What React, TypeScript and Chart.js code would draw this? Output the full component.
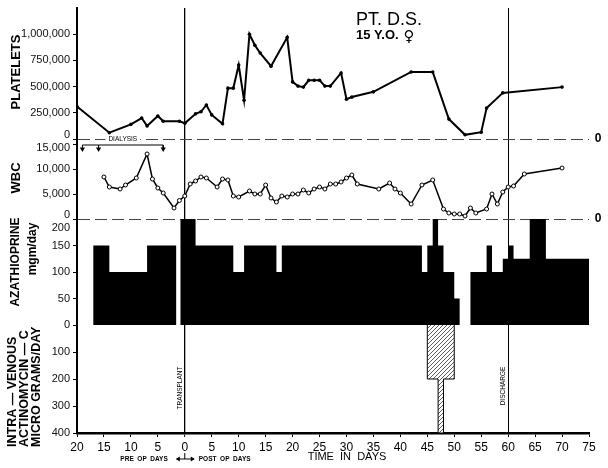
import React, { useEffect, useRef } from 'react';
import { Chart, registerables } from 'chart.js';

Chart.register(...registerables);

const FONT = '"Liberation Sans", Arial, Helvetica, sans-serif';

// ---- time axis (days; negative = pre-op) ----
const xTickValues = [-20, -15, -10, -5, 0, 5, 10, 15, 20, 25, 30, 35, 40, 45, 50, 55, 60, 65, 70, 75];
const transplantDay = 0;
const dischargeDay = 60;

// ---- platelets ----
const plateletTicks = [0, 250000, 500000, 750000, 1000000];
const plateletDays = [-20, -14, -10, -8, -7, -5, -4, -1, 0, 2, 3, 4, 5, 7, 8, 9, 10, 11, 12, 13, 14, 16, 19, 20, 21, 22, 23, 24, 25, 26, 27, 29, 30, 31, 35, 42, 46, 49, 52, 55, 56, 59, 70];
const plateletCounts = [310000, 60000, 140000, 200000, 125000, 220000, 170000, 170000, 150000, 240000, 260000, 325000, 230000, 145000, 485000, 485000, 705000, 370000, 1000000, 895000, 820000, 695000, 970000, 545000, 505000, 495000, 560000, 560000, 560000, 505000, 505000, 630000, 380000, 400000, 450000, 640000, 640000, 190000, 40000, 65000, 295000, 440000, 495000];

// ---- WBC ----
const wbcTicks = [0, 5000, 10000, 15000];
const wbcDays = [-15, -14, -12, -11, -9, -7, -6, -5, -4, -2, -1, 0, 1, 2, 3, 4, 6, 7, 8, 9, 10, 12, 13, 14, 15, 16, 17, 18, 19, 20, 21, 22, 23, 24, 25, 26, 27, 28, 29, 30, 31, 32, 36, 38, 39, 40, 42, 44, 46, 48, 49, 50, 51, 52, 53, 54, 56, 57, 58, 59, 60, 61, 63, 70];
const wbcCounts = [8400, 6400, 6000, 6800, 8200, 13000, 8000, 6200, 5200, 2200, 3700, 4600, 7000, 7600, 8400, 8200, 6400, 8000, 7800, 4600, 4400, 5600, 5000, 5000, 6800, 4200, 3400, 4600, 4400, 5000, 5000, 5800, 5200, 6000, 6400, 6000, 7000, 7000, 7400, 8200, 8800, 7000, 6000, 7200, 6000, 5200, 3000, 6800, 7800, 2000, 1200, 1000, 1000, 600, 2200, 1200, 2000, 5000, 3000, 5400, 6400, 6600, 9000, 10200];

// ---- dialysis (pre-op) ----
const dialysisDays = [-19, -16, -4];
const dialysisBarLevel = 14800; // in WBC units
const dialysisArrowLevel = 14000;

// ---- azathioprine mgm/day (dose starting on each day) ----
const azaTicks = [0, 50, 100, 150, 200];
const azaDays = [-17, -14, -7, -1.6, -0.8, 2, 9, 11, 17, 18, 44, 45, 46, 47, 48, 50, 51, 53, 56, 57, 59, 60, 61, 64, 67, 75];
const azaDoses = [150, 100, 150, 0, 200, 150, 100, 150, 100, 150, 100, 150, 200, 150, 100, 50, 0, 100, 150, 100, 125, 150, 125, 200, 125, 125];

// ---- IV actinomycin-C micrograms/day ----
const actTicks = [0, 100, 200, 300, 400];
const actDays = [45, 45, 47, 48, 50, 50];
const actDoses = [0, 200, 400, 200, 200, 0];

const labelShift: Record<string, Record<string, number>> = {
  yPlt: { '0': -4 },
  yWbc: { '15,000': 4, '0': -4 },
  yAza: { '200': 9 },
};

function hatchPattern(): CanvasPattern | string {
  const c = document.createElement('canvas');
  c.width = 4;
  c.height = 4;
  const g = c.getContext('2d');
  if (!g) return '#999';
  g.fillStyle = '#fff';
  g.fillRect(0, 0, 4, 4);
  g.strokeStyle = '#333';
  g.lineWidth = 0.8;
  g.beginPath();
  g.moveTo(0, 4); g.lineTo(4, 0);
  g.moveTo(-1, 1); g.lineTo(1, -1);
  g.moveTo(3, 5); g.lineTo(5, 3);
  g.stroke();
  return g.createPattern(c, 'repeat') || '#999';
}

function rtext(ctx: CanvasRenderingContext2D, s: string, x: number, y: number, font: string, align: CanvasTextAlign = 'center') {
  ctx.save();
  ctx.translate(x, y);
  ctx.rotate(-Math.PI / 2);
  ctx.font = font;
  ctx.textAlign = align;
  ctx.textBaseline = 'middle';
  ctx.fillText(s, 0, 0);
  ctx.restore();
}

const annotPlugin = {
  id: 'annot',
  beforeDraw(chart: any) {
    for (const id of Object.keys(labelShift)) {
      const sc: any = chart.scales[id];
      if (!sc || !sc.getLabelItems) continue;
      const items = sc.getLabelItems(chart.chartArea);
      for (const it of items) {
        if (it._shifted) continue;
        it._shifted = true;
        const d = labelShift[id][it.label];
        if (d) it.options.translation = [it.options.translation[0], it.options.translation[1] + d];
      }
    }
  },
  afterDraw(chart: any) {
    const ctx: CanvasRenderingContext2D = chart.ctx;
    const { x, yPlt, yWbc } = chart.scales;
    const ca = chart.chartArea;
    ctx.save();
    ctx.fillStyle = '#000';
    ctx.strokeStyle = '#000';

    // dialysis label on the platelet zero line
    const dx = x.getPixelForValue((dialysisDays[0] + dialysisDays[dialysisDays.length - 1]) / 2);
    const dy = yPlt.getPixelForValue(0);
    ctx.font = `6.5px ${FONT}`;
    const w = ctx.measureText('DIALYSIS').width;
    ctx.fillStyle = '#fff';
    ctx.fillRect(dx - w / 2 - 3, dy - 4, w + 6, 8);
    ctx.fillStyle = '#000';
    ctx.textAlign = 'center';
    ctx.textBaseline = 'middle';
    ctx.fillText('DIALYSIS', dx, dy);

    // right-end zero marks
    ctx.font = `bold 12px ${FONT}`;
    ctx.fillText('0', ca.right + 9, yPlt.getPixelForValue(0));
    ctx.fillText('0', ca.right + 9, yWbc.getPixelForValue(0));

    // title
    ctx.textAlign = 'left';
    ctx.textBaseline = 'alphabetic';
    ctx.font = `18px ${FONT}`;
    ctx.fillText('PT. D.S.', 356, 25);
    ctx.font = `bold 13px ${FONT}`;
    ctx.fillText('15 Y.O.', 356, 39);
    ctx.font = `15px "DejaVu Sans", sans-serif`;
    ctx.textAlign = 'center';
    ctx.textBaseline = 'middle';
    ctx.fillText('\u2640', 409, 37);

    // left axis titles
    rtext(ctx, 'PLATELETS', 16, 72, `bold 13px ${FONT}`);
    rtext(ctx, 'WBC', 16, 178, `bold 13px ${FONT}`);
    rtext(ctx, 'AZATHIOPRINE', 16, 262, `bold 12px ${FONT}`);
    rtext(ctx, 'mgm/day', 33, 249, `bold 12px ${FONT}`);
    rtext(ctx, 'INTRA \u2014 VENOUS', 13, 447, `bold 12.5px ${FONT}`, 'left');
    rtext(ctx, 'ACTINOMYCIN \u2014 C', 25, 447, `bold 12.5px ${FONT}`, 'left');
    rtext(ctx, 'MICRO GRAMS/DAY', 37, 447, `bold 12.5px ${FONT}`, 'left');

    // event labels
    const x0 = x.getPixelForValue(transplantDay);
    const x60 = x.getPixelForValue(dischargeDay);
    rtext(ctx, 'TRANSPLANT', x0 - 5, 388, `6.5px ${FONT}`);
    rtext(ctx, 'DISCHARGE', x60 - 5, 386, `6.5px ${FONT}`);

    // bottom captions
    ctx.textBaseline = 'middle';
    ctx.font = `bold 6.5px ${FONT}`;
    ctx.textAlign = 'right';
    ctx.fillText('PRE  OP  DAYS', x0 - 17, 459);
    ctx.textAlign = 'left';
    ctx.fillText('POST  OP  DAYS', x0 + 14, 459);
    ctx.lineWidth = 1;
    ctx.beginPath();
    ctx.moveTo(x0, 453); ctx.lineTo(x0, 459);
    ctx.moveTo(x0 - 8, 459); ctx.lineTo(x0 + 9, 459);
    ctx.stroke();
    ctx.beginPath();
    ctx.moveTo(x0 - 9, 459); ctx.lineTo(x0 - 5, 456.5); ctx.lineTo(x0 - 5, 461.5); ctx.closePath();
    ctx.moveTo(x0 + 10, 459); ctx.lineTo(x0 + 6, 456.5); ctx.lineTo(x0 + 6, 461.5); ctx.closePath();
    ctx.fill();
    ctx.font = `11px ${FONT}`;
    ctx.textAlign = 'center';
    ctx.fillText('TIME  IN  DAYS', 347, 457);
    ctx.restore();
  },
};

export default function App() {
  const ref = useRef<HTMLCanvasElement>(null);
  useEffect(() => {
    const canvas = ref.current;
    if (!canvas) return;

    const bracket: { x: number; y: number }[] = [];
    dialysisDays.forEach((d, i) => {
      if (i === 0) bracket.push({ x: d, y: dialysisArrowLevel }, { x: d, y: dialysisBarLevel });
      else if (i === dialysisDays.length - 1) bracket.push({ x: d, y: dialysisBarLevel }, { x: d, y: dialysisArrowLevel });
      else bracket.push({ x: d, y: dialysisBarLevel }, { x: d, y: dialysisArrowLevel }, { x: d, y: dialysisBarLevel });
    });

    const tickFont = { family: FONT, size: 11 };
    const yFit = (s: any) => { s.width = 77; s.paddingTop = 0; s.paddingBottom = 0; };
    const zeroGrid = (c: any) => (c.tick && c.tick.value === 0 ? '#444' : 'rgba(0,0,0,0)');

    const config: any = {
      type: 'line',
      data: {
        datasets: [
          {
            label: 'Platelets',
            yAxisID: 'yPlt',
            data: plateletDays.map((d, i) => ({ x: d, y: plateletCounts[i] })),
            borderColor: '#000',
            borderWidth: 2,
            pointRadius: 1.8,
            pointBackgroundColor: '#000',
            pointBorderWidth: 0,
            tension: 0,
            fill: false,
          },
          {
            label: 'WBC',
            yAxisID: 'yWbc',
            data: wbcDays.map((d, i) => ({ x: d, y: wbcCounts[i] })),
            borderColor: '#000',
            borderWidth: 1.5,
            pointRadius: 2,
            pointBackgroundColor: '#fff',
            pointBorderColor: '#000',
            pointBorderWidth: 1,
            tension: 0,
            fill: false,
          },
          {
            label: 'Dialysis',
            yAxisID: 'yWbc',
            data: bracket,
            borderColor: '#000',
            borderWidth: 1,
            pointRadius: 0,
            fill: false,
          },
          {
            label: 'Dialysis arrows',
            yAxisID: 'yWbc',
            data: dialysisDays.map((d) => ({ x: d, y: dialysisArrowLevel })),
            showLine: false,
            pointStyle: 'triangle',
            rotation: 180,
            pointRadius: 3,
            pointBackgroundColor: '#000',
            pointBorderColor: '#000',
            pointBorderWidth: 0,
          },
          {
            label: 'Azathioprine',
            yAxisID: 'yAza',
            data: azaDays.map((d, i) => ({ x: d, y: azaDoses[i] })),
            stepped: 'before',
            fill: 'origin',
            backgroundColor: '#000',
            borderColor: 'rgba(0,0,0,0)',
            borderWidth: 1,
            pointRadius: 0,
          },
          {
            label: 'Actinomycin-C',
            yAxisID: 'yAct',
            data: actDays.map((d, i) => ({ x: d, y: actDoses[i] })),
            stepped: 'before',
            fill: 'origin',
            backgroundColor: hatchPattern(),
            borderColor: '#000',
            borderWidth: 1,
            pointRadius: 0,
          },
        ],
      },
      options: {
        responsive: false,
        animation: false,
        events: [],
        layout: { padding: { top: 8, right: 19, bottom: 0, left: 0 } },
        plugins: { legend: { display: false }, tooltip: { enabled: false }, title: { display: false } },
        scales: {
          x: {
            type: 'linear',
            position: 'bottom',
            min: -20,
            max: 75,
            afterBuildTicks: (ax: any) => { ax.ticks = xTickValues.map((v) => ({ value: v })); },
            ticks: {
              callback: (v: any) => String(Math.abs(Number(v))),
              font: { family: FONT, size: 12 },
              color: '#000',
              padding: 3,
              maxRotation: 0,
              autoSkip: false,
            },
            grid: {
              color: (c: any) => (c.tick && (c.tick.value === transplantDay || c.tick.value === dischargeDay) ? '#000' : 'rgba(0,0,0,0)'),
              lineWidth: (c: any) => (c.tick && c.tick.value === transplantDay ? 1.3 : 1),
              tickColor: '#000',
              tickWidth: 1,
              tickLength: 4,
            },
            border: { display: true, color: '#000', width: 2.5 },
            afterFit: (s: any) => { s.height = 35; s.paddingLeft = 0; s.paddingRight = 0; },
          },
          yPlt: {
            type: 'linear',
            position: 'left',
            stack: 'v',
            stackWeight: 131,
            weight: 4,
            min: 0,
            max: 1250000,
            afterBuildTicks: (ax: any) => { ax.ticks = plateletTicks.map((v) => ({ value: v })); },
            ticks: { callback: (v: any) => Number(v).toLocaleString('en-US'), font: tickFont, color: '#111', padding: 3, autoSkip: false },
            grid: { color: zeroGrid, lineWidth: 1, tickColor: '#000', tickLength: 4, borderDash: [12, 5] },
            border: { display: true, color: '#000', width: 2, dash: [12, 5] },
            afterFit: yFit,
          },
          yWbc: {
            type: 'linear',
            position: 'left',
            stack: 'v',
            stackWeight: 80,
            weight: 3,
            min: 0,
            max: 16000,
            afterBuildTicks: (ax: any) => { ax.ticks = wbcTicks.map((v) => ({ value: v })); },
            ticks: { callback: (v: any) => Number(v).toLocaleString('en-US'), font: tickFont, color: '#111', padding: 3, autoSkip: false },
            grid: { color: zeroGrid, lineWidth: 1, tickColor: '#000', tickLength: 4, borderDash: [12, 5] },
            border: { display: true, color: '#000', width: 2, dash: [12, 5] },
            afterFit: yFit,
          },
          yAza: {
            type: 'linear',
            position: 'left',
            stack: 'v',
            stackWeight: 106,
            weight: 2,
            min: 0,
            max: 200,
            afterBuildTicks: (ax: any) => { ax.ticks = azaTicks.map((v) => ({ value: v })); },
            ticks: { callback: (v: any) => (Number(v) === 0 ? '' : String(v)), font: tickFont, color: '#111', padding: 3, autoSkip: false },
            grid: { color: 'rgba(0,0,0,0)', tickColor: '#000', tickLength: 4 },
            border: { display: true, color: '#000', width: 2 },
            afterFit: yFit,
          },
          yAct: {
            type: 'linear',
            position: 'left',
            stack: 'v',
            stackWeight: 108,
            weight: 1,
            min: 0,
            max: 400,
            reverse: true,
            afterBuildTicks: (ax: any) => { ax.ticks = actTicks.map((v) => ({ value: v })); },
            ticks: { callback: (v: any) => String(v), font: tickFont, color: '#111', padding: 3, autoSkip: false },
            grid: { color: 'rgba(0,0,0,0)', tickColor: '#000', tickLength: 4 },
            border: { display: true, color: '#000', width: 2 },
            afterFit: yFit,
          },
        },
      },
      plugins: [annotPlugin],
    };

    const chart = new Chart(canvas, config);
    return () => chart.destroy();
  }, []);

  return (
    <div style={{ position: 'fixed', left: 0, top: 0, width: 608, height: 468, background: '#fff' }}>
      <canvas ref={ref} width={608} height={468} style={{ display: 'block', width: 608, height: 468 }} />
    </div>
  );
}
